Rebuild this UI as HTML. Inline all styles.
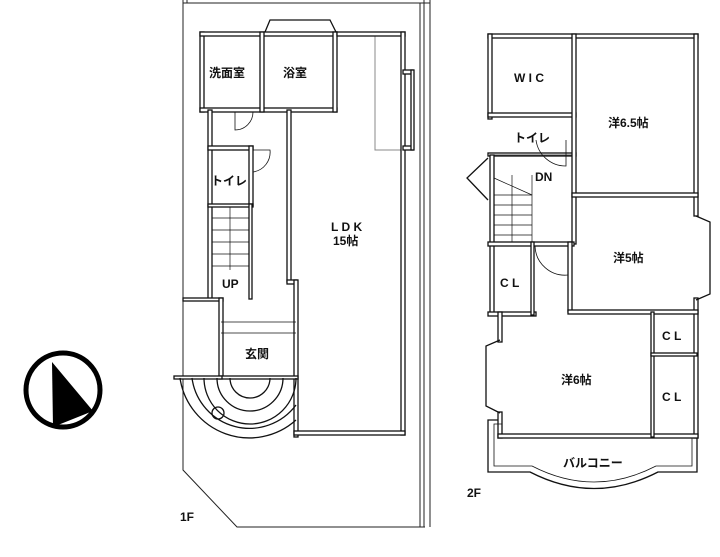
<!DOCTYPE html>
<html><head><meta charset="utf-8"><style>
body{margin:0;background:#fff;}
svg{display:block}
text{font-family:"Liberation Sans","Noto Sans CJK JP",sans-serif;font-size:12px;fill:#111;font-weight:bold}
</style></head><body>
<svg width="720" height="557" viewBox="0 0 720 557" xmlns="http://www.w3.org/2000/svg">
<g fill="none" stroke="#222" stroke-width="1">
<polyline points="183,0 183,470 237,527 425,527"/>
<line x1="187" y1="0" x2="187" y2="3"/>
<line x1="183" y1="3" x2="430" y2="3"/>
<line x1="420" y1="3" x2="420" y2="527"/>
<line x1="424" y1="0" x2="424" y2="527"/>
<line x1="430" y1="0" x2="430" y2="527"/>
<rect x="375" y="35" width="28" height="115" stroke="#888"/>
</g>
<g fill="#fff" stroke="#111" stroke-width="1.3">
<rect x="200" y="32" width="4" height="80"/>
<rect x="200" y="32" width="137" height="4"/>
<rect x="200" y="108" width="137" height="4"/>
<rect x="260" y="32" width="4" height="80"/>
<rect x="333" y="32" width="4" height="80"/>
<polyline points="265,32 270,20 330,20 336,32" fill="none"/>
<rect x="337" y="32" width="68" height="4"/>
<rect x="401" y="32" width="4" height="403"/>
<rect x="403" y="70" width="10" height="4"/>
<rect x="403" y="146" width="10" height="4"/>
<rect x="411" y="70" width="3" height="80"/>
<rect x="287" y="110" width="4" height="172"/>
<rect x="287" y="280" width="10" height="4"/>
<rect x="294" y="280" width="4" height="157"/>
<rect x="294" y="431" width="111" height="4"/>
<rect x="208" y="110" width="4" height="190"/>
<rect x="208" y="146" width="45" height="4"/>
<rect x="249" y="146" width="4" height="60"/>
<rect x="208" y="204" width="45" height="3"/>
<rect x="249" y="204" width="3" height="95"/>
<rect x="183" y="298" width="40" height="3"/>
<rect x="219" y="298" width="4" height="80"/>
<rect x="219" y="376" width="79" height="3"/>
<rect x="174" y="376" width="48" height="3"/>
<rect x="488" y="34" width="210" height="4"/>
<rect x="488" y="34" width="4" height="85"/>
<rect x="488" y="113" width="88" height="4"/>
<rect x="488" y="153" width="88" height="3"/>
<rect x="572" y="34" width="4" height="210"/>
<rect x="694" y="34" width="4" height="182"/>
<rect x="572" y="193" width="126" height="4"/>
<rect x="694" y="298" width="4" height="140"/>
<rect x="490" y="155" width="4" height="160"/>
<rect x="488" y="242" width="86" height="4"/>
<rect x="568" y="242" width="4" height="70"/>
<rect x="488" y="312" width="48" height="4"/>
<rect x="531" y="242" width="3" height="73"/>
<rect x="568" y="310" width="130" height="4"/>
<rect x="498" y="312" width="4" height="30"/>
<rect x="498" y="412" width="4" height="26"/>
<rect x="498" y="434" width="200" height="4"/>
<rect x="651" y="312" width="3" height="125"/>
<rect x="651" y="353" width="46" height="3"/>
</g>
<g fill="none" stroke="#111" stroke-width="1.3">
<polyline points="696,216 710,222 710,294 696,300"/>
<polyline points="488,158 467,178 488,200"/>
<polyline points="500,340 486,346 486,406 500,413"/>
<path d="M498,420 H488 V472 H530 Q594,505 658,472 H697 V438"/>
<path d="M502,424 H494 V466 H532 Q594,498 656,466 H692 V438" stroke-width="0.8"/>
<g stroke-width="0.7">
<line x1="212" y1="218" x2="249" y2="218"/><line x1="212" y1="230" x2="249" y2="230"/>
<line x1="212" y1="242" x2="249" y2="242"/><line x1="212" y1="254" x2="249" y2="254"/>
<line x1="212" y1="266" x2="249" y2="266"/><line x1="230" y1="207" x2="230" y2="270"/>
<line x1="221" y1="322" x2="296" y2="322"/><line x1="221" y1="333" x2="296" y2="333"/>
<line x1="494" y1="195" x2="532" y2="195"/><line x1="494" y1="205" x2="532" y2="205"/>
<line x1="494" y1="215" x2="532" y2="215"/><line x1="494" y1="225" x2="532" y2="225"/>
<line x1="494" y1="235" x2="532" y2="235"/><line x1="512" y1="175" x2="512" y2="242"/>
<line x1="532" y1="175" x2="532" y2="242"/><line x1="494" y1="178" x2="532" y2="195"/>
<line x1="494" y1="155" x2="572" y2="155"/>
</g>
<path d="M230,378 A20,20 0 0 0 270,378"/>
<path d="M217,378 A33,33 0 0 0 283,378"/>
<path d="M204,378 A46,46 0 0 0 296,378"/>
<path d="M192,378 A58,58 0 0 0 296,405"/>
<path d="M180,378 A70,70 0 0 0 296,420"/>
<circle cx="218" cy="413" r="6"/>
<path d="M235,112 V130 A18,18 0 0 0 253,112" stroke-width="0.8"/>
<path d="M253,150 H270 A20,20 0 0 1 253,172" stroke-width="0.8"/>
<path d="M536,140 A30,30 0 0 0 566,166 V140" stroke-width="0.8"/>
<path d="M535,246 A30,30 0 0 0 568,275" stroke-width="0.8"/>
</g>
<circle cx="63" cy="390" r="37" fill="none" stroke="#000" stroke-width="5"/>
<polygon points="52,362 93,411 53,427" fill="#000"/>
<text x="209" y="77">洗面室</text>
<text x="283" y="77">浴室</text>
<text x="331" y="231" font-weight="normal">L D K</text>
<text x="333" y="245" font-weight="normal">15帖</text>
<text x="211" y="185">トイレ</text>
<text x="222" y="288" font-weight="normal">UP</text>
<text x="245" y="358">玄関</text>
<text x="180" y="521">1F</text>
<text x="514" y="82">W I C</text>
<text x="514" y="142">トイレ</text>
<text x="535" y="181" font-weight="normal">DN</text>
<text x="608" y="127">洋6.5帖</text>
<text x="613" y="262">洋5帖</text>
<text x="500" y="287">C L</text>
<text x="662" y="340">C L</text>
<text x="561" y="384">洋6帖</text>
<text x="662" y="401">C L</text>
<text x="563" y="467">バルコニー</text>
<text x="467" y="497">2F</text>
</svg>
</body></html>
